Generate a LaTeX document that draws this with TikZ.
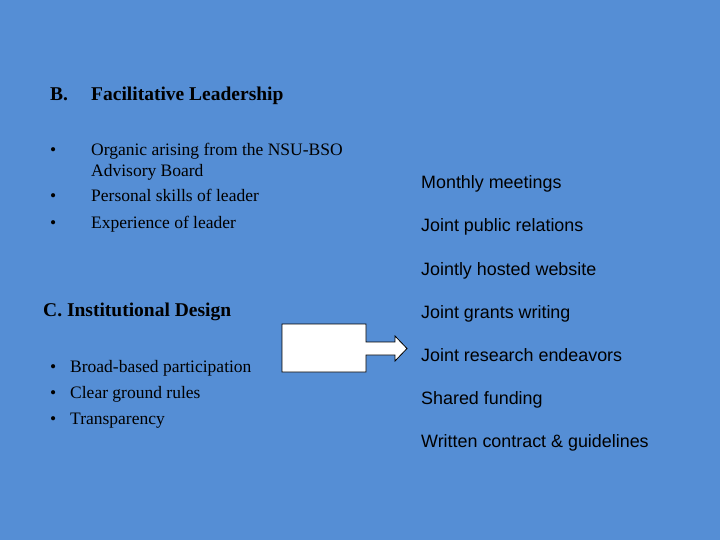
\documentclass[tikz,border=0pt]{standalone}
\usepackage{fontspec}
\setmainfont{Liberation Serif}
\newfontfamily\arialf{Liberation Sans}
\definecolor{bg}{RGB}{85,142,213}
\begin{document}
\begin{tikzpicture}[x=1pt,y=-1pt,
  ser/.style={anchor=base west,inner sep=0pt,font=\fontsize{17.5}{19}\selectfont},
  serb/.style={anchor=base west,inner sep=0pt,font=\fontsize{19.5}{21}\selectfont\bfseries},
  san/.style={anchor=base west,inner sep=0pt,font=\arialf\fontsize{17.9}{19}\selectfont},
  bul/.style={anchor=base west,inner sep=0pt,font=\fontsize{17.5}{19}\selectfont}]
\fill[bg] (0,0) rectangle (720,540);
\useasboundingbox (0,0) rectangle (720,540);
\node[serb] (b) at (50,101) {B.};
\node[serb] (bt) at (91,101) {Facilitative Leadership};
\node[bul] (b1) at (50,156) {•};
\node[bul] (b2) at (50,202) {•};
\node[bul] (b3) at (50,229) {•};
\node[ser] (t1) at (91,156) {Organic arising from the NSU-BSO};
\node[ser] (t1b) at (91,177) {Advisory Board};
\node[ser] (t2) at (91,202) {Personal skills of leader};
\node[ser] (t3) at (91,229) {Experience of leader};
\node[serb] (c) at (43,316) {C. Institutional Design};
\node[bul] (c1) at (50,372) {•};
\node[bul] (c2) at (50,398) {•};
\node[bul] (c3) at (50,424) {•};
\node[ser] (u1) at (70,372) {Broad-based participation};
\node[ser] (u2) at (70,398) {Clear ground rules};
\node[ser] (u3) at (70,424) {Transparency};
\node[san] (r1) at (421,189) {Monthly meetings};
\node[san] (r2) at (421,232) {Joint public relations};
\node[san] (r3) at (421,275) {Jointly hosted website};
\node[san] (r4) at (421,318) {Joint grants writing};
\node[san] (r5) at (421,361) {Joint research endeavors};
\node[san] (r6) at (421,404) {Shared funding};
\node[san] (r7) at (421,447) {Written contract \& guidelines};
\draw[fill=white,line width=0.8pt,line join=miter] (282,324) -- (366,324) -- (366,342) -- (395,342) -- (395,336) -- (407,348.5) -- (395,361) -- (395,355) -- (366,355) -- (366,372) -- (282,372) -- cycle;
\end{tikzpicture}
\end{document}
